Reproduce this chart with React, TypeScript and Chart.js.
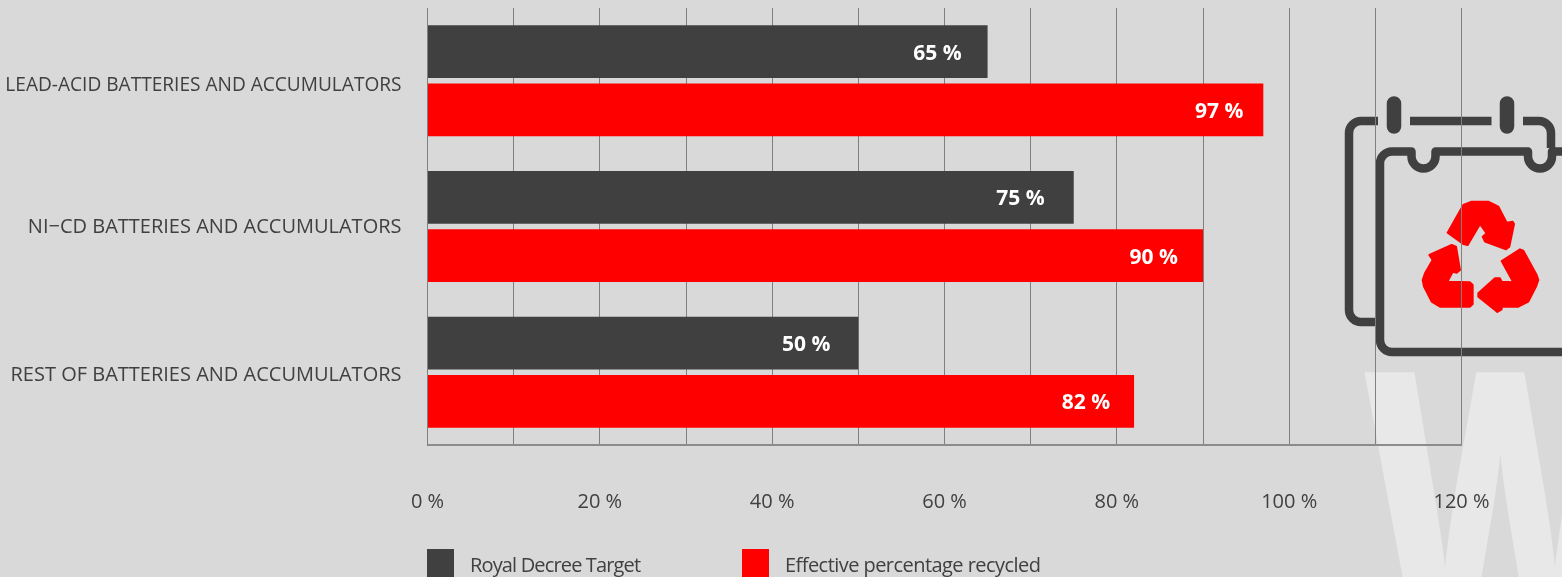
import React, { useEffect, useRef } from "react";
import { Chart, registerables } from "chart.js";

Chart.register(...registerables);

const categories = [
  "LEAD-ACID BATTERIES AND ACCUMULATORS",
  "NI−CD BATTERIES AND ACCUMULATORS",
  "REST OF BATTERIES AND ACCUMULATORS",
];
const targetValues = [65, 75, 50];
const recycledValues = [97, 90, 82];
const seriesNames = ["Royal Decree Target", "Effective percentage recycled"];

const BG = "#d9d9d9";
const DARK = "#404040";
const RED = "#ff0000";
const FONT = "'Open Sans', sans-serif";

const decorPlugin = {
  id: "decor",
  beforeDraw(chart: any) {
    const c = chart.ctx as CanvasRenderingContext2D;
    // small vertical nudges of the category labels
    const nudges = [5, 1, 3];
    const yScale = chart.scales.y;
    yScale.getLabelItems(chart.chartArea).forEach((item: any, i: number) => {
      if (!item._nudged) {
        item.options.translation = [item.options.translation[0], item.options.translation[1] + nudges[i]];
        item._nudged = true;
      }
    });
    c.save();
    c.fillStyle = BG;
    c.fillRect(0, 0, chart.width, chart.height);
    // watermark
    c.save();
    c.fillStyle = "#e8e8e8";
    c.font = `800 420px ${FONT}`;
    c.textAlign = "center";
    c.textBaseline = "alphabetic";
    c.translate(1500, 627);
    c.scale(0.64, 0.85);
    c.fillText("W", 0, 0);
    c.restore();
    // calendar
    c.strokeStyle = DARK;
    c.lineWidth = 8.5;
    c.lineCap = "butt";
    c.lineJoin = "round";
    c.beginPath();
    c.moveTo(1378, 121);
    c.lineTo(1361, 121);
    c.arcTo(1349, 121, 1349, 133, 12);
    c.lineTo(1349, 310);
    c.arcTo(1349, 322, 1361, 322, 12);
    c.lineTo(1376, 322);
    c.moveTo(1410, 121);
    c.lineTo(1491.5, 121);
    c.moveTo(1523, 121);
    c.lineTo(1539, 121);
    c.arcTo(1551, 121, 1551, 133, 12);
    c.lineTo(1551, 148);
    c.stroke();
    c.beginPath();
    c.moveTo(1570, 352);
    c.lineTo(1392, 352);
    c.arcTo(1380, 352, 1380, 340, 12);
    c.lineTo(1380, 163);
    c.arcTo(1380, 151.5, 1392, 151.5, 12);
    c.lineTo(1411.5, 151.5);
    c.lineTo(1411.5, 156.5);
    c.arc(1423.5, 156.5, 12, Math.PI, 0, true);
    c.lineTo(1435.5, 151.5);
    c.lineTo(1528, 151.5);
    c.lineTo(1528, 156.5);
    c.arc(1540, 156.5, 12, Math.PI, 0, true);
    c.lineTo(1552, 151.5);
    c.lineTo(1570, 151.5);
    c.stroke();
    c.lineWidth = 14.5;
    c.lineCap = "round";
    c.beginPath();
    c.moveTo(1394, 103.5);
    c.lineTo(1394, 126.5);
    c.moveTo(1507, 103.5);
    c.lineTo(1507, 126.5);
    c.stroke();
    // recycle symbol
    const arrows = [
      [[443,458],[490,375],[515,365],[565,365],[595,380],[620,428],[638,425],[642,432],[628,500],[618,508],[555,485],[548,470],[560,460],[540,432],[503,495],[490,492]],
      [[388,525],[455,495],[468,500],[480,570],[470,578],[458,575],[442,605],[510,607],[518,615],[518,672],[510,680],[420,680],[395,665],[372,620],[368,600],[375,580],[398,540]],
      [[605,543],[660,508],[670,512],[710,585],[715,600],[708,620],[685,665],[655,680],[605,680],[605,688],[592,696],[585,690],[535,650],[535,640],[585,595],[600,595],[605,605],[640,607]],
    ];
    c.fillStyle = RED;
    c.strokeStyle = RED;
    c.lineWidth = 2;
    c.lineJoin = "round";
    arrows.forEach((a) => {
      c.beginPath();
      a.forEach(([x, y], i) => {
        const px = 1300 + x / 3;
        const py = 80 + y / 3;
        if (i === 0) c.moveTo(px, py);
        else c.lineTo(px, py);
      });
      c.closePath();
      c.fill();
      c.stroke();
    });
    c.restore();
  },
  afterDatasetsDraw(chart: any) {
    const c = chart.ctx as CanvasRenderingContext2D;
    const gaps = [
      [26, 29, 28],
      [20, 25, 24],
    ];
    c.save();
    c.fillStyle = "#ffffff";
    c.font = `700 21px ${FONT}`;
    c.textAlign = "right";
    c.textBaseline = "middle";
    chart.data.datasets.forEach((ds: any, di: number) => {
      chart.getDatasetMeta(di).data.forEach((el: any, i: number) => {
        c.fillText(`${ds.data[i]} %`, el.x - gaps[di][i], el.y + 2);
      });
    });
    c.restore();
  },
  afterDraw(chart: any) {
    const c = chart.ctx as CanvasRenderingContext2D;
    c.save();
    c.font = `400 20px ${FONT}`;
    c.textBaseline = "middle";
    c.textAlign = "left";
    const xs = [427, 742];
    const spacing = ["-0.85px", "-0.55px"];
    chart.data.datasets.forEach((ds: any, i: number) => {
      c.fillStyle = ds.backgroundColor;
      c.fillRect(xs[i], 549, 27, 28);
      c.fillStyle = DARK;
      (c as any).letterSpacing = spacing[i];
      c.fillText(ds.label, xs[i] + 43, 566);
    });
    c.restore();
  },
};

export default function App() {
  const ref = useRef<HTMLCanvasElement>(null);
  useEffect(() => {
    document.body.style.margin = "0";
    document.body.style.background = BG;
    const chart = new Chart(ref.current!, {
      type: "bar",
      data: {
        labels: categories,
        datasets: [
          { label: seriesNames[0], data: targetValues, backgroundColor: DARK, categoryPercentage: 0.8, barPercentage: 0.905 },
          { label: seriesNames[1], data: recycledValues, backgroundColor: RED, categoryPercentage: 0.8, barPercentage: 0.905 },
        ],
      },
      options: {
        indexAxis: "y",
        animation: false,
        responsive: false,
        layout: { padding: { top: 8, right: 100.5, left: 0, bottom: 0 } },
        plugins: { legend: { display: false }, tooltip: { enabled: false } },
        scales: {
          x: {
            min: 0,
            max: 120,
            ticks: {
              stepSize: 10,
              autoSkip: false,
              maxRotation: 0,
              padding: 45,
              color: DARK,
              font: { family: FONT, size: 20 },
              callback: (v: any) => (Number(v) % 20 === 0 ? `${v} %` : ""),
            },
            grid: { color: "#808080", lineWidth: 1, drawTicks: false },
            border: { color: "#8c8c8c", width: 2 },
            afterFit(s: any) {
              s.height = 132;
            },
          },
          y: {
            ticks: {
              padding: 26,
              color: DARK,
              font: (ctx: any) => ({ family: FONT, size: ctx.index === 0 ? 19.1 : 20 }),
            },
            grid: { display: false, drawTicks: false },
            border: { color: "#808080", width: 1 },
            afterFit(s: any) {
              s.width = 427.5;
              s.paddingTop = 0;
              s.paddingBottom = 0;
            },
          },
        },
      },
      plugins: [decorPlugin],
    } as any);
    return () => chart.destroy();
  }, []);
  return <canvas ref={ref} width={1562} height={577} style={{ display: "block" }} />;
}
